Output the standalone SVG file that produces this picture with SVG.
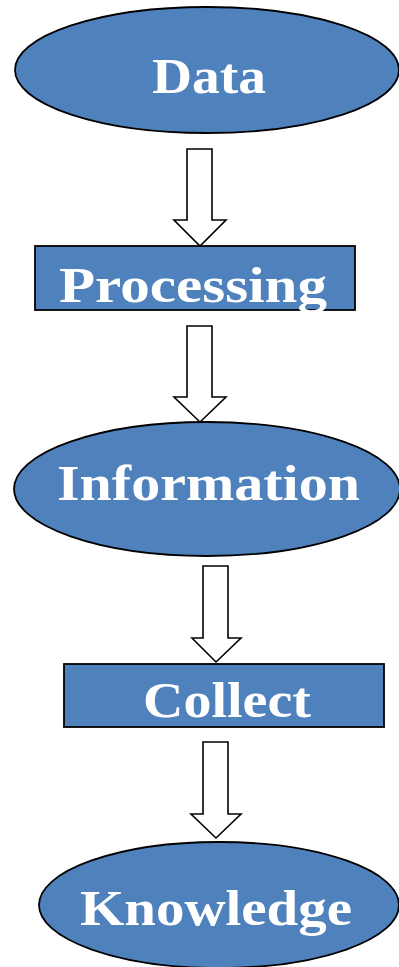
<svg xmlns="http://www.w3.org/2000/svg" width="399" height="967" viewBox="0 0 399 967">
<style>
.n{fill:#4F81BD;stroke:#000;stroke-width:1.8}
.t{fill:#fff;font-family:"Liberation Serif","DejaVu Serif",serif;font-weight:bold;font-size:50px}
.a{fill:#fff;stroke:#000;stroke-width:1.6;stroke-linejoin:miter}
</style>
<rect width="399" height="967" fill="#fff"/>
<g id="connectors">
<path class="a" d="M187,149 H212 V220 H226 L200,246 L174,220 H187 Z"/>
<path class="a" d="M187,326 H212 V397 H226 L200,422 L174,397 H187 Z"/>
<path class="a" d="M203,566 H228 V638 H241 L216,662 L192,638 H203 Z"/>
<path class="a" d="M203,742 H228 V814 H241 L216,838 L191,814 H203 Z"/>
</g>
<g id="data">
<ellipse class="n" cx="207" cy="70" rx="192" ry="63"/>
<text class="t" x="152" y="93" textLength="114" lengthAdjust="spacingAndGlyphs">Data</text>
</g>
<g id="processing">
<rect class="n" x="35" y="246" width="320" height="64"/>
<text class="t" x="59" y="302" textLength="268" lengthAdjust="spacingAndGlyphs">Processing</text>
</g>
<g id="information">
<ellipse class="n" cx="207" cy="489" rx="193" ry="67"/>
<text class="t" x="57" y="500" textLength="303" lengthAdjust="spacingAndGlyphs">Information</text>
</g>
<g id="collect">
<rect class="n" x="64" y="664" width="320" height="63"/>
<text class="t" x="143" y="717" textLength="168" lengthAdjust="spacingAndGlyphs">Collect</text>
</g>
<g id="knowledge">
<ellipse class="n" cx="219" cy="905" rx="180" ry="63"/>
<text class="t" x="80" y="925" textLength="272" lengthAdjust="spacingAndGlyphs">Knowledge</text>
</g>
</svg>
